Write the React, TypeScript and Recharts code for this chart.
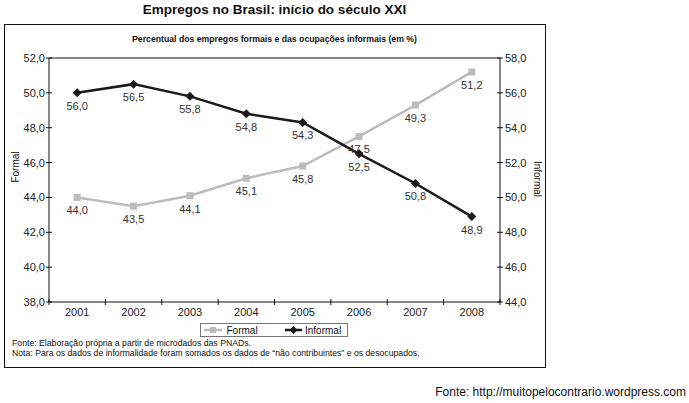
import { LabelList, Line, LineChart, ReferenceLine, XAxis, YAxis } from "recharts";

const FONT = '"Liberation Sans", Arial, sans-serif';

const years = [2001, 2002, 2003, 2004, 2005, 2006, 2007, 2008];
const formal = [44.0, 43.5, 44.1, 45.1, 45.8, 47.5, 49.3, 51.2];
const informal = [56.0, 56.5, 55.8, 54.8, 54.3, 52.5, 50.8, 48.9];
const formalTicks = [38, 40, 42, 44, 46, 48, 50, 52];
const informalTicks = [44, 46, 48, 50, 52, 54, 56, 58];
const seriesNames = ["Formal", "Informal"];

const FORMAL_COLOR = "#bcbcbc";
const INFORMAL_COLOR = "#1a1a1a";

const data = years.map((year, i) => ({ year, formal: formal[i], informal: informal[i] }));
// year labels at the centres, tick marks on the boundaries between years
const yearTicks = [...years.flatMap((y) => [y - 0.5, y]), years[years.length - 1] + 0.5];

const fmt = (v: number) => v.toFixed(1).replace(".", ",");

function YearTick({ x, y, payload }: any) {
  const v = payload.value;
  if (Number.isInteger(v)) {
    return (
      <text x={x} y={y + 14} textAnchor="middle" fontSize={11} fill="#222" fontFamily={FONT}>
        {v}
      </text>
    );
  }
  return <line x1={x} x2={x} y1={y - 3} y2={y + 3} stroke="#111" />;
}

function LeftTick({ x, y, payload }: any) {
  return (
    <g>
      <line x1={x - 3} x2={x + 3} y1={y} y2={y} stroke="#111" />
      <text x={x - 4} y={y + 4} textAnchor="end" fontSize={11} fill="#222" fontFamily={FONT}>
        {fmt(payload.value)}
      </text>
    </g>
  );
}

function RightTick({ x, y, payload }: any) {
  return (
    <g>
      <line x1={x - 3} x2={x + 3} y1={y} y2={y} stroke="#111" />
      <text x={x + 5} y={y + 4} textAnchor="start" fontSize={11} fill="#222" fontFamily={FONT}>
        {fmt(payload.value)}
      </text>
    </g>
  );
}

const SquareDot = ({ cx, cy, index }: any) => (
  <rect key={`f${index}`} x={cx - 3.5} y={cy - 3.5} width={7} height={7} fill={FORMAL_COLOR} />
);

const DiamondDot = ({ cx, cy, index }: any) => (
  <path
    key={`i${index}`}
    d={`M${cx},${cy - 4.5}L${cx + 4.5},${cy}L${cx},${cy + 4.5}L${cx - 4.5},${cy}Z`}
    fill={INFORMAL_COLOR}
  />
);

const ValueLabel = ({ x, y, width, value }: any) => (
  <text
    x={x + (width || 0) / 2}
    y={y + 17}
    textAnchor="middle"
    fontSize={11}
    fill="#333"
    fontFamily={FONT}
  >
    {fmt(Number(value))}
  </text>
);

function Overlay() {
  return (
    <svg
      width={689}
      height={403}
      style={{ position: "absolute", left: 0, top: 0, pointerEvents: "none" }}
      fontFamily={FONT}
    >
      <rect x={4.5} y={24.5} width={541} height={343} fill="none" stroke="#111" />
      <text x={274.5} y={14} textAnchor="middle" fontSize={13.5} fontWeight="bold" fill="#111">
        Empregos no Brasil: início do século XXI
      </text>
      <text x={274.5} y={42} textAnchor="middle" fontSize={8.7} fontWeight="bold" fill="#111">
        Percentual dos empregos formais e das ocupações informais (em %)
      </text>
      <text transform="translate(18.5,167) rotate(-90)" textAnchor="middle" fontSize={10} fill="#111">
        {seriesNames[0]}
      </text>
      <text transform="translate(533.5,179) rotate(90)" textAnchor="middle" fontSize={10} fill="#111">
        {seriesNames[1]}
      </text>

      <rect x={200.5} y={323.5} width={147} height={13} fill="#fff" stroke="#777" />
      <line x1={204} x2={222} y1={330} y2={330} stroke={FORMAL_COLOR} strokeWidth={2.5} />
      <rect x={210} y={327} width={6} height={6} fill={FORMAL_COLOR} />
      <text x={226.5} y={333.5} fontSize={10} fill="#111">
        {seriesNames[0]}
      </text>
      <line x1={285} x2={302} y1={330} y2={330} stroke={INFORMAL_COLOR} strokeWidth={2.5} />
      <path d="M293.5,326L297.5,330L293.5,334L289.5,330Z" fill={INFORMAL_COLOR} />
      <text x={305} y={333.5} fontSize={10} fill="#111">
        {seriesNames[1]}
      </text>

      <text x={12} y={346} fontSize={8.7} fill="#111">
        Fonte: Elaboração própria a partir de microdados das PNADs.
      </text>
      <text x={12} y={356} fontSize={8.7} fill="#111">
        Nota: Para os dados de informalidade foram somados os dados de “não contribuintes” e os desocupados.
      </text>
      <text x={686} y={396} textAnchor="end" fontSize={12} fill="#111">
        Fonte: http://muitopelocontrario.wordpress.com
      </text>
    </svg>
  );
}

export default function App() {
  return (
    <div style={{ position: "absolute", left: 0, top: 0, width: 689, height: 403, background: "#fff" }}>
      <LineChart
        width={689}
        height={403}
        data={data}
        margin={{ top: 58, right: 149, bottom: 81, left: 9 }}
      >
        <XAxis
          dataKey="year"
          type="number"
          domain={[years[0] - 0.5, years[years.length - 1] + 0.5]}
          ticks={yearTicks}
          interval={0}
          tick={<YearTick />}
          tickLine={false}
          tickSize={0}
          tickMargin={0}
          height={20}
          axisLine={{ stroke: "#111" }}
        />
        <YAxis
          yAxisId="left"
          orientation="left"
          domain={[formalTicks[0], formalTicks[formalTicks.length - 1]]}
          ticks={formalTicks}
          interval={0}
          tick={<LeftTick />}
          tickLine={false}
          tickSize={0}
          tickMargin={0}
          width={40}
          axisLine={{ stroke: "#111" }}
        />
        <YAxis
          yAxisId="right"
          orientation="right"
          domain={[informalTicks[0], informalTicks[informalTicks.length - 1]]}
          ticks={informalTicks}
          interval={0}
          tick={<RightTick />}
          tickLine={false}
          tickSize={0}
          tickMargin={0}
          width={40}
          axisLine={{ stroke: "#111" }}
        />
        <ReferenceLine yAxisId="left" y={formalTicks[formalTicks.length - 1]} stroke="#111" />
        <Line
          yAxisId="left"
          dataKey="formal"
          name={seriesNames[0]}
          stroke={FORMAL_COLOR}
          strokeWidth={2.5}
          dot={SquareDot}
          activeDot={false}
          isAnimationActive={false}
        >
          <LabelList dataKey="formal" content={<ValueLabel />} />
        </Line>
        <Line
          yAxisId="right"
          dataKey="informal"
          name={seriesNames[1]}
          stroke={INFORMAL_COLOR}
          strokeWidth={2.5}
          dot={DiamondDot}
          activeDot={false}
          isAnimationActive={false}
        >
          <LabelList dataKey="informal" content={<ValueLabel />} />
        </Line>
      </LineChart>
      <Overlay />
    </div>
  );
}
